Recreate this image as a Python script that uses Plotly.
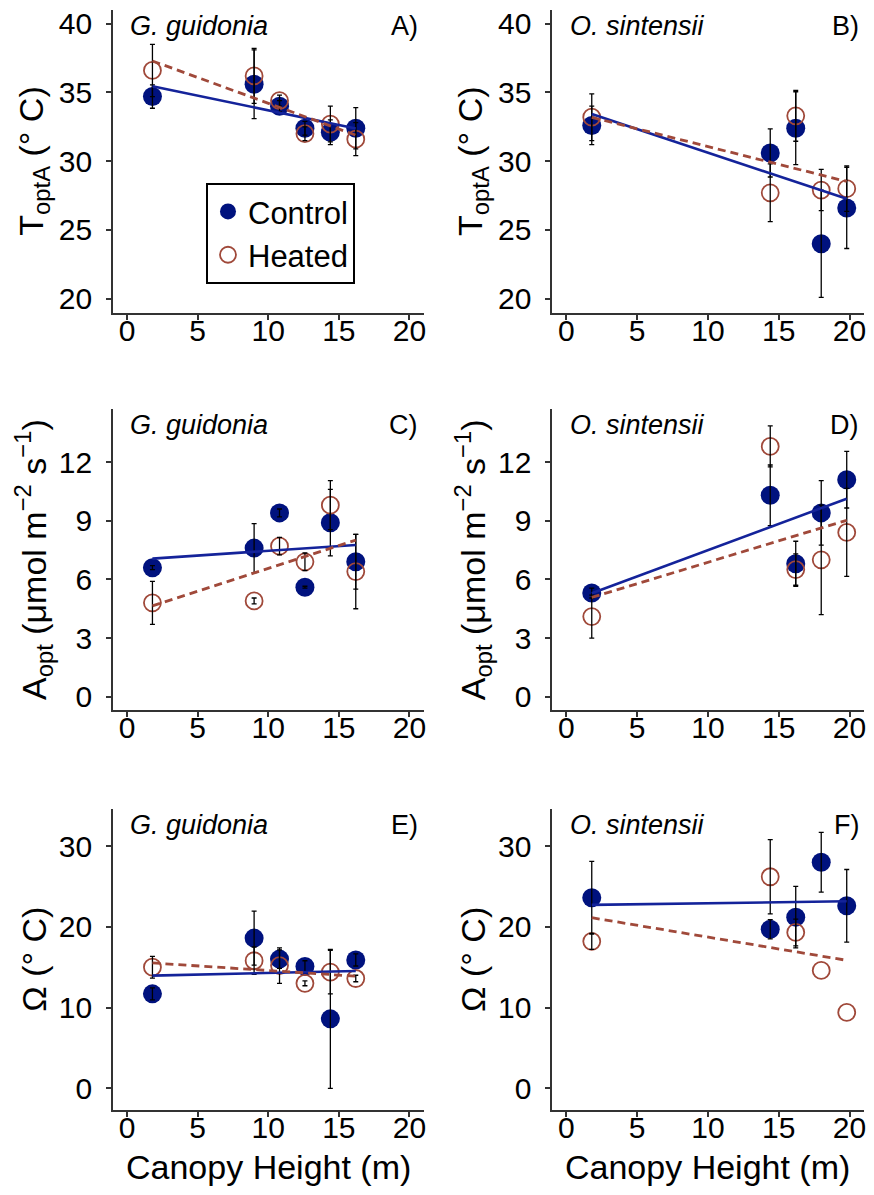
import numpy as np
import plotly.graph_objects as go
from plotly.subplots import make_subplots

# Canopy heights (m) of the sampled positions for each species
gg_height = [1.8, 9.0, 10.8, 12.6, 14.4, 16.2]
os_height = [1.8, 14.4, 16.2, 18.0, 19.8]

# Optimum temperature of photosynthesis, T_optA (deg C), mean and SE
gg_topt_ctrl = [34.7, 35.6, 34.0, 32.4, 32.1, 32.4]
gg_topt_ctrl_se = [0.85, 2.5, 0.4, 0.5, 0.9, 1.5]
gg_topt_heat = [36.6, 36.2, 34.4, 32.0, 32.7, 31.6]
gg_topt_heat_se = [1.9, 2.0, 0.4, 0.5, 1.3, 1.2]
os_topt_ctrl = [32.6, 30.6, 32.4, 24.0, 26.6]
os_topt_ctrl_se = [1.4, 1.75, 2.65, 3.9, 2.95]
os_topt_heat = [33.2, 27.7, 33.3, 27.9, 28.0]
os_topt_heat_se = [1.7, 2.1, 1.85, 1.5, 1.65]

# Photosynthetic rate at the optimum, A_opt (umol m-2 s-1)
gg_aopt_ctrl = [6.6, 7.6, 9.4, 5.6, 8.9, 6.9]
gg_aopt_ctrl_se = [0.1, 1.25, 0.2, 0.05, 1.7, 1.4]
gg_aopt_heat = [4.8, 4.9, 7.7, 6.9, 9.8, 6.4]
gg_aopt_heat_se = [1.1, 0.15, 0.45, 0.45, 1.25, 1.9]
os_aopt_ctrl = [5.3, 10.3, 6.8, 9.4, 11.1]
os_aopt_ctrl_se = [0.25, 1.55, 1.15, 1.65, 1.45]
os_aopt_heat = [4.1, 12.8, 6.5, 7.0, 8.4]
os_aopt_heat_se = [1.1, 1.05, 0.8, 2.8, 2.25]

# Thermal breadth of photosynthesis, Omega (deg C)
gg_omega_ctrl = [11.7, 18.6, 16.0, 15.1, 8.6, 15.9]
gg_omega_ctrl_se = [0.75, 3.35, 1.15, 0.7, 8.6, 0.75]
gg_omega_heat = [15.0, 15.8, 15.2, 13.0, 14.4, 13.6]
gg_omega_heat_se = [1.35, 1.7, 2.2, 0.3, 2.7, 0.4]
os_omega_ctrl = [23.6, 19.7, 21.2, 28.0, 22.6]
os_omega_ctrl_se = [4.5, 1.2, 3.8, 3.7, 4.5]
os_omega_heat = [18.2, 26.2, 19.3, 14.6, 9.4]
os_omega_heat_se = [1.0, 4.6, 1.65, None, None]

species = ["G. guidonia", "O. sintensii"]
panel_letters = ["A)", "B)", "C)", "D)", "E)", "F)"]
y_titles = [
    "T<sub>optA</sub> (° C)",
    "A<sub>opt</sub> (μmol m<sup>−2</sup> s<sup>−1</sup>)",
    "Ω (° C)",
]
y_ranges = [[18.95, 41.0], [-0.7, 14.7], [-2.7, 34.6]]
y_ticks = [[20, 25, 30, 35, 40], [0, 3, 6, 9, 12], [0, 10, 20, 30]]
x_ticks = [0, 5, 10, 15, 20]

CTRL = "#00127E"
CTRL_LINE = "#14239A"
HEAT = "#A0493A"
FONT = "Liberation Sans, Arial, sans-serif"
AXIS = "#333333"

W, H = 874, 1195
col_px = [(113.3, 425.0), (554.0, 866.7)]
row_px = [(7.0, 311.7), (408.3, 711.0), (810.0, 1112.7)]

panels = [
    (gg_height, gg_topt_ctrl, gg_topt_ctrl_se, gg_topt_heat, gg_topt_heat_se),
    (os_height, os_topt_ctrl, os_topt_ctrl_se, os_topt_heat, os_topt_heat_se),
    (gg_height, gg_aopt_ctrl, gg_aopt_ctrl_se, gg_aopt_heat, gg_aopt_heat_se),
    (os_height, os_aopt_ctrl, os_aopt_ctrl_se, os_aopt_heat, os_aopt_heat_se),
    (gg_height, gg_omega_ctrl, gg_omega_ctrl_se, gg_omega_heat, gg_omega_heat_se),
    (os_height, os_omega_ctrl, os_omega_ctrl_se, os_omega_heat, os_omega_heat_se),
]

fig = make_subplots(rows=3, cols=2)


def errorbar_trace(x, y, se):
    keep = [i for i, s in enumerate(se) if s is not None]
    return go.Scatter(
        x=[x[i] for i in keep], y=[y[i] for i in keep], mode="markers",
        marker=dict(size=1, opacity=0), showlegend=False, hoverinfo="skip",
        error_y=dict(type="data", array=[se[i] for i in keep], color="black",
                     thickness=1.3, width=2.5),
    )


def fit_line(x, y):
    slope, intercept = np.polyfit(np.asarray(x, float), np.asarray(y, float), 1)
    xs = np.array([min(x), max(x)])
    return xs, intercept + slope * xs


for k, (x, yc, sc, yh, sh) in enumerate(panels):
    r, c = k // 2 + 1, k % 2 + 1
    first = k == 0
    fig.add_trace(go.Scatter(
        x=x, y=yc, mode="markers", name="Control", legendgroup="c",
        showlegend=first,
        marker=dict(size=19, color=CTRL, line=dict(width=0))), row=r, col=c)
    fig.add_trace(go.Scatter(
        x=x, y=yh, mode="markers", name="Heated", legendgroup="h",
        showlegend=first,
        marker=dict(size=17, color="rgba(0,0,0,0)",
                    line=dict(width=1.8, color=HEAT))), row=r, col=c)
    fig.add_trace(errorbar_trace(x, yc, sc), row=r, col=c)
    fig.add_trace(errorbar_trace(x, yh, sh), row=r, col=c)
    lx, ly = fit_line(x, yc)
    fig.add_trace(go.Scatter(x=lx, y=ly, mode="lines", showlegend=False,
                             line=dict(color=CTRL_LINE, width=2.6)), row=r, col=c)
    lx, ly = fit_line(x, yh)
    fig.add_trace(go.Scatter(x=lx, y=ly, mode="lines", showlegend=False,
                             line=dict(color=HEAT, width=2.8, dash="8px,5px")),
                  row=r, col=c)

    x0, x1 = col_px[c - 1]
    y0, y1 = row_px[r - 1]
    axn = "" if k == 0 else str(k + 1)
    fig.update_xaxes(
        domain=[x0 / W, x1 / W], range=[-1, 21], tickvals=x_ticks,
        ticks="outside", ticklen=5, tickwidth=1.5, tickcolor=AXIS,
        showline=True, linecolor=AXIS, linewidth=1.5,
        showgrid=False, zeroline=False, ticklabelstandoff=-15,
        tickfont=dict(family=FONT, size=30, color="black"), row=r, col=c)
    fig.update_yaxes(
        domain=[1 - y1 / H, 1 - y0 / H], range=y_ranges[r - 1],
        tickvals=y_ticks[r - 1],
        ticks="outside", ticklen=5, tickwidth=1.5, tickcolor=AXIS,
        showline=True, linecolor=AXIS, linewidth=1.5,
        showgrid=False, zeroline=False, ticklabelstandoff=8,
        tickfont=dict(family=FONT, size=30, color="black"), row=r, col=c)

    # species name and panel letter inside the plotting area
    fig.add_annotation(
        x=0.05, y=0.948, xref=f"x{axn} domain", yref=f"y{axn} domain",
        text=f"<i>{species[c - 1]}</i>", showarrow=False,
        xanchor="left", yanchor="middle",
        font=dict(family=FONT, size=27, color="black"))
    fig.add_annotation(
        x=0.99, y=0.948, xref=f"x{axn} domain", yref=f"y{axn} domain",
        text=panel_letters[k], showarrow=False,
        xanchor="right", yanchor="middle",
        font=dict(family=FONT, size=27, color="black"))

    # y-axis title
    fig.add_annotation(
        x=(x0 - 80) / W, y=1 - (y0 + y1) / 2 / H, xref="paper", yref="paper",
        text=y_titles[r - 1], textangle=-90, showarrow=False,
        xanchor="center", yanchor="middle",
        font=dict(family=FONT, size=34, color="black"))

    if r == 3:
        fig.add_annotation(
            x=(x0 + x1) / 2 / W, y=1 - 1170 / H, xref="paper", yref="paper",
            text="Canopy Height (m)", showarrow=False,
            xanchor="center", yanchor="middle",
            font=dict(family=FONT, size=34, color="black"))

fig.update_layout(
    width=W, height=H,
    margin=dict(l=0, r=0, t=0, b=0),
    paper_bgcolor="white", plot_bgcolor="white",
    showlegend=True,
    legend=dict(
        x=206.7 / W, y=1 - 180.7 / H, xanchor="left", yanchor="top",
        bgcolor="white", bordercolor="black", borderwidth=2,
        font=dict(family=FONT, size=31, color="black"),
        itemwidth=30, tracegroupgap=0,
    ),
)

fig.write_html("out.html")
